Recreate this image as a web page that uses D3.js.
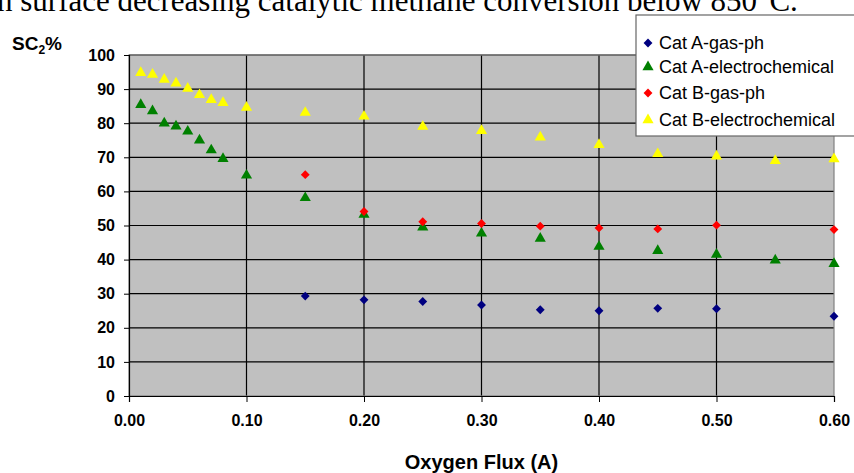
<!DOCTYPE html>
<html>
<head>
<meta charset="utf-8">
<script src="https://cdn.jsdelivr.net/npm/d3@7"></script>
<style>
  body { margin: 0; background: #fff; }
  svg { display: block; }
</style>
</head>
<body>
<div id="chart"></div>
<script>
var seriesNames = ["Cat A-gas-ph", "Cat A-electrochemical", "Cat B-gas-ph", "Cat B-electrochemical"];
var seriesColors = ["#000080", "#008000", "#FF0000", "#FFFF00"];
var seriesShapes = ["diamond", "triangle", "diamond", "triangle"];

var catAGasX = [0.15, 0.20, 0.25, 0.30, 0.35, 0.40, 0.45, 0.50, 0.60];
var catAGasY = [29.3, 28.2, 27.7, 26.7, 25.3, 25.0, 25.7, 25.6, 23.4];

var catAElecX = [0.01, 0.02, 0.03, 0.04, 0.05, 0.06, 0.07, 0.08, 0.10, 0.15, 0.20, 0.25, 0.30, 0.35, 0.40, 0.45, 0.50, 0.55, 0.60];
var catAElecY = [85.4, 83.6, 80.0, 79.1, 77.6, 75.0, 72.1, 69.6, 64.7, 58.1, 53.2, 49.5, 47.7, 46.2, 43.8, 42.6, 41.5, 39.8, 38.8];

var catBGasX = [0.15, 0.20, 0.25, 0.30, 0.35, 0.40, 0.45, 0.50, 0.60];
var catBGasY = [64.9, 54.1, 51.1, 50.6, 49.8, 49.3, 49.0, 50.1, 48.8];

var catBElecX = [0.01, 0.02, 0.03, 0.04, 0.05, 0.06, 0.07, 0.08, 0.10, 0.15, 0.20, 0.25, 0.30, 0.35, 0.40, 0.45, 0.50, 0.55, 0.60];
var catBElecY = [94.8, 94.3, 92.8, 91.7, 90.2, 88.3, 86.9, 86.0, 84.6, 83.1, 82.0, 79.0, 77.8, 75.9, 73.7, 71.0, 70.3, 69.0, 69.5];

var xTicks = [0, 0.1, 0.2, 0.3, 0.4, 0.5, 0.6];
var yTicks = [0, 10, 20, 30, 40, 50, 60, 70, 80, 90, 100];

var series = [
  {x: catAGasX, y: catAGasY},
  {x: catAElecX, y: catAElecY},
  {x: catBGasX, y: catBGasY},
  {x: catBElecX, y: catBElecY}
];

var W = 854, H = 473;
var margin = {top: 55, right: 20, bottom: 77, left: 129},
    width = W - margin.left - margin.right,
    height = H - margin.top - margin.bottom;

var x = d3.scaleLinear().domain([0, 0.6]).range([0, width]);
var y = d3.scaleLinear().domain([0, 100]).range([height, 0]);

var svg = d3.select("#chart")
    .append("svg")
    .attr("width", W)
    .attr("height", H);

// caption of the page above, cut by the top edge as in the source
svg.append("text")
  .attr("x", -3)
  .attr("y", 11)
  .style("font-family", "'Liberation Serif', 'Times New Roman', serif")
  .style("font-size", "31px")
  .text("n surface decreasing catalytic methane conversion below 850°C.");

var g = svg.append("g")
  .attr("transform", "translate(" + margin.left + "," + margin.top + ")");

g.append("rect")
  .attr("width", width)
  .attr("height", height)
  .attr("fill", "#C0C0C0");

// gridlines
g.selectAll(".hgrid")
  .data(yTicks.slice(1))
  .enter().append("line")
  .attr("x1", 0).attr("x2", width)
  .attr("y1", function(d) { return y(d); })
  .attr("y2", function(d) { return y(d); })
  .attr("stroke", "#000").attr("stroke-width", 1.2);

g.selectAll(".vgrid")
  .data(xTicks.slice(1, -1))
  .enter().append("line")
  .attr("y1", 0).attr("y2", height)
  .attr("x1", function(d) { return x(d); })
  .attr("x2", function(d) { return x(d); })
  .attr("stroke", "#000").attr("stroke-width", 1.2);

// plot border
g.append("rect")
  .attr("width", width)
  .attr("height", height)
  .attr("fill", "none")
  .attr("stroke", "#808080")
  .attr("stroke-width", 1.2);

var xAxis = d3.axisBottom(x).tickValues(xTicks).tickSize(6).tickPadding(13).tickFormat(d3.format(".2f"));
var yAxis = d3.axisLeft(y).tickValues(yTicks).tickSize(5).tickPadding(9);

var gx = g.append("g")
  .attr("transform", "translate(0," + height + ")")
  .call(xAxis);
var gy = g.append("g").call(yAxis);

[gx, gy].forEach(function(a) {
  a.select(".domain").attr("stroke", "#000").attr("stroke-width", 1.2);
  a.selectAll(".tick line").attr("stroke", "#000");
  a.selectAll("text")
    .attr("fill", "#000")
    .style("font-family", "'Liberation Sans', Arial, sans-serif")
    .style("font-weight", "bold")
    .style("font-size", "16px");
});

// markers
var diamond = d3.symbol().type(d3.symbolDiamond2).size(50);
var triangle = d3.symbol().type(d3.symbolTriangle).size(54);

function shapePath(s) { return s === "diamond" ? diamond() : triangle(); }

series.forEach(function(s, i) {
  g.append("g").selectAll("path")
    .data(s.x.map(function(v, j) { return [v, s.y[j]]; }))
    .enter().append("path")
    .attr("d", shapePath(seriesShapes[i]))
    .attr("fill", seriesColors[i])
    .attr("transform", function(d) { return "translate(" + x(d[0]) + "," + y(d[1]) + ")"; });
});

// axis titles
var yTitle = svg.append("text")
  .attr("x", 12)
  .attr("y", 50)
  .style("font-family", "'Liberation Sans', Arial, sans-serif")
  .style("font-weight", "bold")
  .style("font-size", "19px");
yTitle.append("tspan").text("SC");
yTitle.append("tspan").attr("dy", 4).style("font-size", "12px").text("2");
yTitle.append("tspan").attr("dy", -4).text("%");

svg.append("text")
  .attr("x", margin.left + width / 2)
  .attr("y", 469)
  .attr("text-anchor", "middle")
  .style("font-family", "'Liberation Sans', Arial, sans-serif")
  .style("font-weight", "bold")
  .style("font-size", "20px")
  .text("Oxygen Flux (A)");

// legend
var legend = svg.append("g").attr("transform", "translate(636,15)");
legend.append("rect")
  .attr("width", 230)
  .attr("height", 121)
  .attr("fill", "#fff")
  .attr("stroke", "#666")
  .attr("stroke-width", 1.2);

var legendY = [28, 52, 78, 105];
seriesNames.forEach(function(name, i) {
  var item = legend.append("g").attr("transform", "translate(0," + legendY[i] + ")");
  item.append("path")
    .attr("d", shapePath(seriesShapes[i]))
    .attr("transform", "translate(12,0)")
    .attr("fill", seriesColors[i]);
  item.append("text")
    .attr("x", 23)
    .attr("dy", "0.35em")
    .style("font-family", "'Liberation Sans', Arial, sans-serif")
    .style("font-size", "18px")
    .text(name);
});
</script>
</body>
</html>
